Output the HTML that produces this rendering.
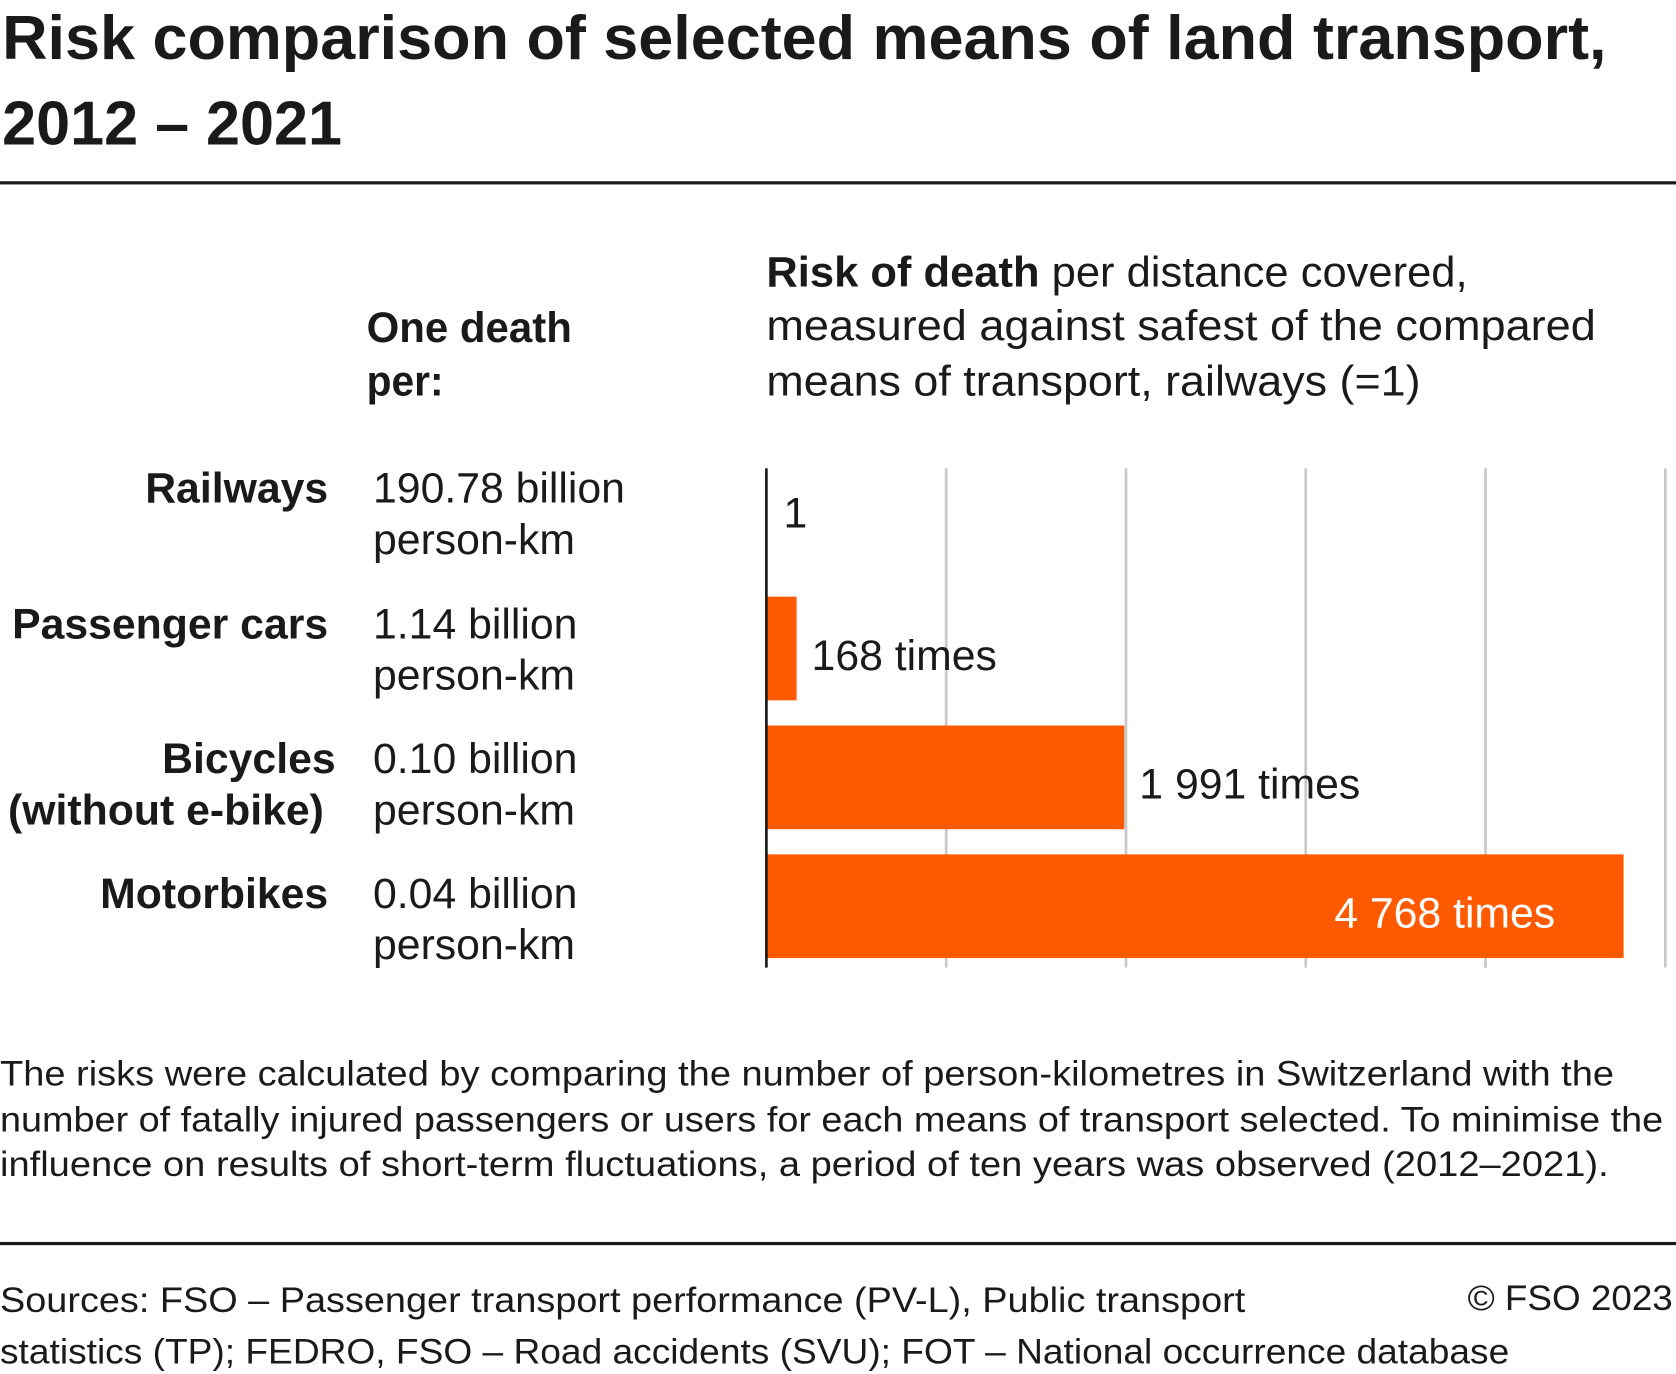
<!DOCTYPE html>
<html><head><meta charset="utf-8"><style>
html,body{margin:0;padding:0;background:#fff;}
svg{display:block;}
text{font-family:"Liberation Sans",sans-serif;fill:#1a1a1a;}
.b{font-weight:bold;}
</style></head><body>
<svg id="chart" width="1676" height="1374" viewBox="0 0 1568 1285" preserveAspectRatio="none">
<text class="b" x="2" y="55" font-size="58" textLength="1501" lengthAdjust="spacingAndGlyphs">Risk comparison of selected means of land transport,</text>
<text class="b" x="2" y="135" font-size="58" textLength="318" lengthAdjust="spacingAndGlyphs">2012 – 2021</text>
<rect x="0" y="169.5" width="1568" height="3" fill="#1a1a1a"/>
<text class="b" x="343" y="320" font-size="40" textLength="192" lengthAdjust="spacingAndGlyphs">One death</text>
<text class="b" x="343" y="370" font-size="40" textLength="72" lengthAdjust="spacingAndGlyphs">per:</text>
<text x="717" y="268" font-size="40" textLength="656" lengthAdjust="spacingAndGlyphs"><tspan class="b">Risk of death</tspan> per distance covered,</text>
<text x="717" y="318" font-size="40" textLength="776" lengthAdjust="spacingAndGlyphs">measured against safest of the compared</text>
<text x="717" y="370" font-size="40" textLength="612" lengthAdjust="spacingAndGlyphs">means of transport, railways (=1)</text>
<g id="rows"></g>
<g id="grid"></g>
<g id="bars"></g>
<text x="0" y="1015" font-size="33" textLength="1510" lengthAdjust="spacingAndGlyphs">The risks were calculated by comparing the number of person-kilometres in Switzerland with the</text>
<text x="0" y="1058" font-size="33" textLength="1556" lengthAdjust="spacingAndGlyphs">number of fatally injured passengers or users for each means of transport selected. To minimise the</text>
<text x="0" y="1100" font-size="33" textLength="1505" lengthAdjust="spacingAndGlyphs">influence on results of short-term fluctuations, a period of ten years was observed (2012–2021).</text>
<rect x="0" y="1161.5" width="1568" height="3" fill="#1a1a1a"/>
<text x="0" y="1227" font-size="33" textLength="1165" lengthAdjust="spacingAndGlyphs">Sources:  FSO – Passenger transport performance (PV-L), Public transport</text>
<text x="0" y="1275" font-size="33" textLength="1412" lengthAdjust="spacingAndGlyphs">statistics (TP); FEDRO, FSO – Road accidents (SVU); FOT – National occurrence database</text>
<text x="1565" y="1225" font-size="33" text-anchor="end" textLength="192" lengthAdjust="spacingAndGlyphs">© FSO 2023</text>
</svg>
<script>
const categories = ["Railways", "Passenger cars", "Bicycles", "Motorbikes"];
const categorySub = ["", "", "(without e-bike)", ""];
const distances = ["190.78 billion", "1.14 billion", "0.10 billion", "0.04 billion"];
const riskValues = [1, 168, 1991, 4768];
const riskLabels = ["1", "168 times", "1 991 times", "4 768 times"];
const gridTicks = [0, 1000, 2000, 3000, 4000, 5000];

const NS = "http://www.w3.org/2000/svg";
const x0 = 717, xMax = 5000, plotW = 1558 - 717;
const yTop = 437.5, band = 120.5, barH = 97;
function xScale(v){ return x0 + v / xMax * plotW; }
function yBand(i){ return yTop + i * band; }
function mk(tag, attrs, parent){ const e = document.createElementNS(NS, tag); for (const k in attrs) e.setAttribute(k, attrs[k]); parent.appendChild(e); return e; }

const grid = document.getElementById("grid");
gridTicks.forEach((t, i) => {
  if (t === 0) return;
  const l = mk("line", {x1: xScale(t), x2: xScale(t), y1: 438, y2: 905, stroke: "#c8c8c8", "stroke-width": 2.5}, grid);
  
  
});

const bars = document.getElementById("bars");
riskValues.forEach((v, i) => {
  const y = yBand(i);
  const w = xScale(v) - x0;
  const r = mk("rect", {x: x0, y: y, width: w, height: barH, fill: "#ff5a00"}, bars);
  
  
  const inside = w > 600;
  const tx = inside ? xScale(v) - 64 : (w < 5 ? x0 + 16 : xScale(v) + 14);
  const ty = i === 0 ? y + 56 : y + barH / 2 + 20;
  const t = mk("text", {x: tx, y: ty, "font-size": 40, "text-anchor": inside ? "end" : "start"}, bars);
  if (inside) t.style.fill = "#fff";
  t.textContent = riskLabels[i];
  
  
});
const ax = mk("line", {x1: x0, x2: x0, y1: 438, y2: 905, stroke: "#1a1a1a", "stroke-width": 2.5}, bars);



const rows = document.getElementById("rows");
const rowBase = [470, 597, 723, 849];
categories.forEach((c, i) => {
  const right = categorySub[i] ? 314 : 307;
  const t = mk("text", {x: right, y: rowBase[i], "font-size": 40, "text-anchor": "end", "class": "b"}, rows);
  t.textContent = c;
  
  
  if (categorySub[i]) {
    const s = mk("text", {x: 303, y: rowBase[i] + 48, "font-size": 40, "text-anchor": "end", "class": "b"}, rows);
    s.textContent = categorySub[i];
    
    
  }
  const d = mk("text", {x: 349, y: rowBase[i], "font-size": 40}, rows);
  d.textContent = distances[i];
  
  
  const u = mk("text", {x: 349, y: rowBase[i] + 48, "font-size": 40}, rows);
  u.textContent = "person-km";
  
  
});
</script>
</body></html>
